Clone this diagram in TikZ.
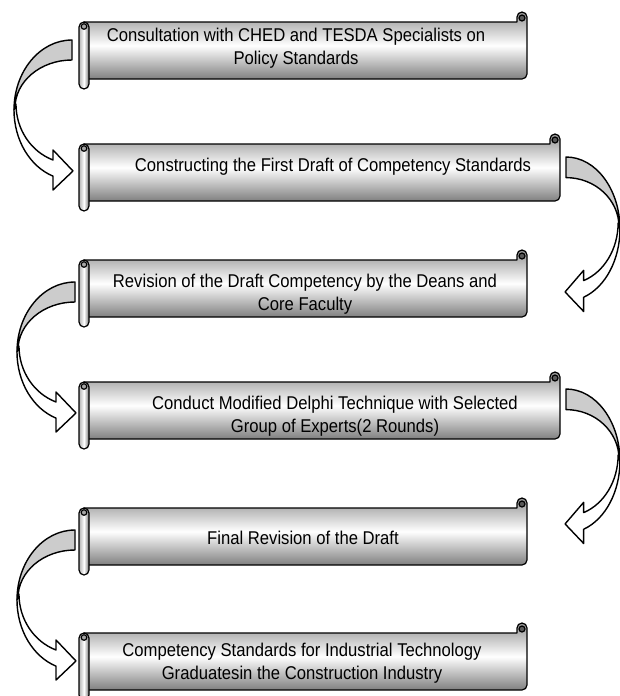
\documentclass[tikz,border=0pt]{standalone}
\usepackage{fontspec}
\setmainfont[FakeStretch=0.9]{Liberation Sans}
\newcommand\myscroll[2]{% #1 = top (image y), #2 = right x
  \begin{scope}[yshift=-#1pt]
    \path[sline,bodyshade] (84,-10) -- ({#2-10},-10) -- ({#2-10},-5)
      arc[start angle=180,end angle=0,radius=5] -- (#2,-62)
      arc[start angle=0,end angle=-90,radius=5] -- (84,-67) -- cycle;
    \draw[sline,fill=black!65] ({#2-5},-6) circle (3);
    \path[sline,rollshade,rounded corners=5pt] (79,-10) rectangle (89,-77);
    \draw[sline,fill=black!35] (84,-14.5) circle (2.8);
  \end{scope}}
\newcommand\mycurved[4]{% #1,#2 = tail top (image), #3 xscale, #4 yscale
  \begin{scope}[shift={(#1,-#2)},xscale=#3,yscale=#4]
    \path[arrback] (0,0) arc[start angle=90,end angle=180,x radius=58,y radius=70]
      -- (-57,-68) arc[start angle=180,end angle=90,x radius=57,y radius=48] -- cycle;
    \path[arrfront] (-58,-70) arc[start angle=180,end angle=250.88,x radius=58,y radius=70]
      -- (-19,-150) -- (1,-131) -- (-19,-110) -- (-19,-120)
      arc[start angle=250.2,end angle=180,x radius=56,y radius=59.5] -- cycle;
  \end{scope}}
\begin{document}
\begin{tikzpicture}[x=1pt,y=1pt,
  sline/.style={draw=black,line width=1.2pt,line join=round},
  bodyshade/.style={top color=black!42,bottom color=black!50,middle color=white},
  rollshade/.style={left color=black!30,right color=black!55,middle color=white},
  arrback/.style={draw=black,line width=1.4pt,fill=black!20,line join=round},
  arrfront/.style={draw=black,line width=1.4pt,fill=white,line join=round},
  lbl/.style={font=\fontsize{18.5}{23}\selectfont,align=center,inner sep=0pt,text=black}]
\useasboundingbox (0,0) rectangle (620,-696);
\fill[white] (0,0) rectangle (620,-696);
% arrows
\mycurved{72}{40}{1}{1}
\mycurved{566}{157}{-0.93}{1.03}
\mycurved{75}{282}{1}{1}
\mycurved{566}{389}{-0.93}{1.03}
\mycurved{75}{530}{1}{1}
% scrolls
\myscroll{12}{527}
\myscroll{134}{560}
\myscroll{250}{527}
\myscroll{372}{560}
\myscroll{498}{527}
\myscroll{623}{527}
% texts
\node[lbl] (s1) at (296,-48.5) {Consultation with CHED and TESDA Specialists on\\Policy Standards};
\node[lbl] (s2) at (333,-167) {Constructing the First Draft of Competency Standards};
\node[lbl] (s3) at (305,-294) {Revision of the Draft Competency by the Deans and\\Core Faculty};
\node[lbl] (s4) at (335,-416) {Conduct Modified Delphi Technique with Selected\\Group of Experts(2 Rounds)};
\node[lbl] (s5) at (303,-538) {Final Revision of the Draft};
\node[lbl] (s6) at (302,-663) {Competency Standards for Industrial Technology\\Graduatesin the Construction Industry};
\end{tikzpicture}
\end{document}
